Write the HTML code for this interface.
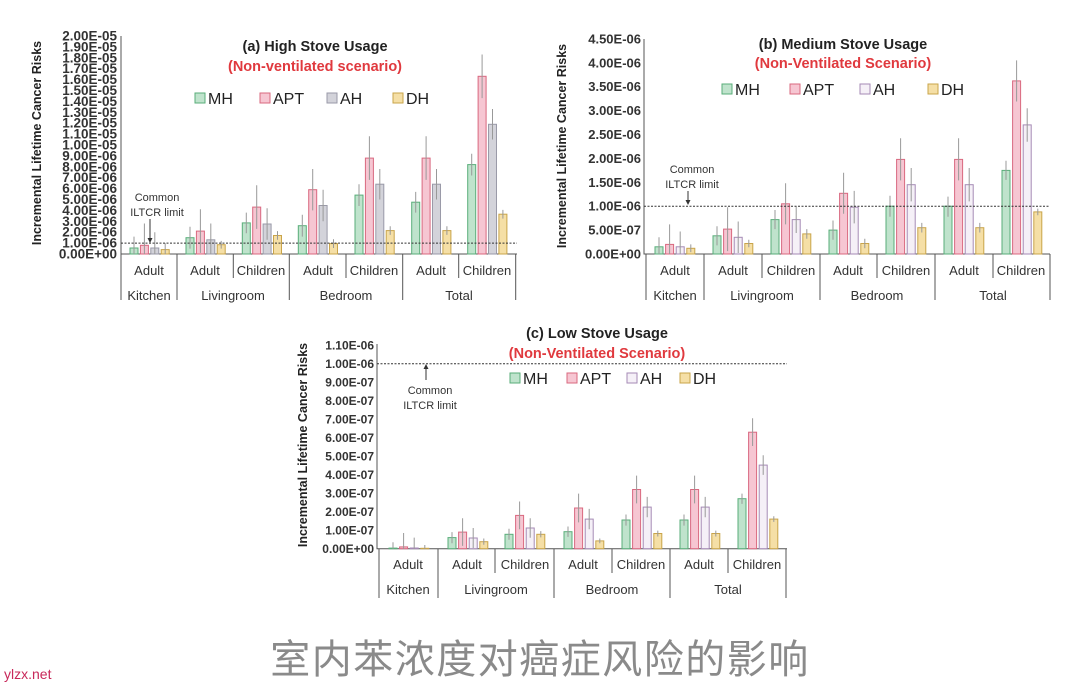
<!DOCTYPE html>
<html><head><meta charset="utf-8"><style>
body{margin:0;background:#fff}
svg{display:block;font-family:"Liberation Sans",sans-serif}
.t{font-size:13.5px;font-weight:bold;fill:#333;text-anchor:end}
.tt{font-size:14.5px;font-weight:bold;fill:#222;text-anchor:middle}
.st{font-size:14.5px;font-weight:bold;fill:#e0393e;text-anchor:middle}
.lg{font-size:16px;fill:#222}
.cl{font-size:11px;fill:#333;text-anchor:middle}
.xl{font-size:13px;fill:#333;text-anchor:middle}
.yt{font-size:12.5px;font-weight:bold;fill:#222;text-anchor:middle}
.mh{fill:#bfe3cc;stroke:#5aae7a}
.ap{fill:#f6c6d2;stroke:#d9687f}
.ahg{fill:#d3d3da;stroke:#9a9aa8}
.ah{fill:#f5f0f7;stroke:#a58ab5}
.dh{fill:#f5dfa6;stroke:#c9a44a}
.e{stroke:#999;stroke-width:1}
.ax{stroke:#555;stroke-width:1;fill:none}
.lim{stroke:#333;stroke-width:1;stroke-dasharray:2,1.5}
</style></head><body>
<svg width="1080" height="689" viewBox="0 0 1080 689">
<rect width="1080" height="689" fill="#fff"/>

<!-- ===== Chart A ===== -->
<text class="yt" transform="translate(41,143) rotate(-90)">Incremental Lifetime Cancer Risks</text>
<g class="t">
<text x="117" y="258.5">0.00E+00</text><text x="117" y="247.6">1.00E-06</text><text x="117" y="236.7">2.00E-06</text><text x="117" y="225.8">3.00E-06</text><text x="117" y="214.9">4.00E-06</text><text x="117" y="204">5.00E-06</text><text x="117" y="193.1">6.00E-06</text><text x="117" y="182.2">7.00E-06</text><text x="117" y="171.3">8.00E-06</text><text x="117" y="160.4">9.00E-06</text><text x="117" y="149.5">1.00E-05</text><text x="117" y="138.6">1.10E-05</text><text x="117" y="127.7">1.20E-05</text><text x="117" y="116.8">1.30E-05</text><text x="117" y="105.9">1.40E-05</text><text x="117" y="95">1.50E-05</text><text x="117" y="84.1">1.60E-05</text><text x="117" y="73.2">1.70E-05</text><text x="117" y="62.3">1.80E-05</text><text x="117" y="51.4">1.90E-05</text><text x="117" y="40.5">2.00E-05</text>
</g>
<path class="ax" d="M121,36V254H517M121,254V300M177,254V300M233.3,254V278M289.3,254V300M346,254V278M402.7,254V300M458.7,254V278M515.7,254V300"/>
<text class="tt" x="315" y="51">(a) High Stove Usage</text>
<text class="st" x="315" y="71">(Non-ventilated scenario)</text>
<rect class="mh" x="195" y="93" width="10" height="10"/><text class="lg" x="208" y="104">MH</text>
<rect class="ap" x="260" y="93" width="10" height="10"/><text class="lg" x="273" y="104">APT</text>
<rect class="ahg" x="327" y="93" width="10" height="10"/><text class="lg" x="340" y="104">AH</text>
<rect class="dh" x="393" y="93" width="10" height="10"/><text class="lg" x="406" y="104">DH</text>
<text class="cl" x="157" y="201">Common</text><text class="cl" x="157" y="216">ILTCR limit</text>
<path d="M150,219V241" stroke="#333"/><path d="M147.5,238L150,243L152.5,238Z" fill="#333"/>
<g>
<rect class="mh" x="130" y="248" width="8" height="6"/><rect class="ap" x="140.4" y="245.3" width="8" height="8.7"/><rect class="ahg" x="150.8" y="248" width="8" height="6"/><rect class="dh" x="161.2" y="249.6" width="8" height="4.4"/>
<rect class="mh" x="186" y="237.7" width="8" height="16.3"/><rect class="ap" x="196.4" y="231.1" width="8" height="22.9"/><rect class="ahg" x="206.8" y="239.8" width="8" height="14.2"/><rect class="dh" x="217.2" y="244.7" width="8" height="9.3"/>
<rect class="mh" x="242.3" y="222.9" width="8" height="31.1"/><rect class="ap" x="252.7" y="207.1" width="8" height="46.9"/><rect class="ahg" x="263.1" y="224" width="8" height="30"/><rect class="dh" x="273.5" y="235.5" width="8" height="18.5"/>
<rect class="mh" x="298.3" y="225.7" width="8" height="28.3"/><rect class="ap" x="308.7" y="189.7" width="8" height="64.3"/><rect class="ahg" x="319.1" y="205.5" width="8" height="48.5"/><rect class="dh" x="329.5" y="243.6" width="8" height="10.4"/>
<rect class="mh" x="355" y="195.1" width="8" height="58.9"/><rect class="ap" x="365.4" y="158.1" width="8" height="95.9"/><rect class="ahg" x="375.8" y="184.2" width="8" height="69.8"/><rect class="dh" x="386.2" y="230.6" width="8" height="23.4"/>
<rect class="mh" x="411.7" y="202.2" width="8" height="51.8"/><rect class="ap" x="422.1" y="158.1" width="8" height="95.9"/><rect class="ahg" x="432.5" y="184.2" width="8" height="69.8"/><rect class="dh" x="442.9" y="230.6" width="8" height="23.4"/>
<rect class="mh" x="467.7" y="164.6" width="8" height="89.4"/><rect class="ap" x="478.1" y="76.3" width="8" height="177.7"/><rect class="ahg" x="488.5" y="124.3" width="8" height="129.7"/><rect class="dh" x="498.9" y="214.2" width="8" height="39.8"/>
</g>
<path class="e" d="M134,236.6V254M144.4,223.5V254M154.8,232.2V254M165.2,243.1V254
M190,226.8V248.6M200.4,209.3V252.9M210.8,223.5V254M221.2,240.9V248.6
M246.3,212.6V233.3M256.7,185.3V228.9M267.1,208.2V239.8M277.5,231.1V239.8
M302.3,214.8V236.6M312.7,169V210.4M323.1,189.7V221.3M333.5,239.3V248
M359,184.2V206M369.4,136.3V179.9M379.8,169V199.5M390.2,226.2V234.9
M415.7,191.9V212.6M426.1,136.3V179.9M436.5,169V199.5M446.9,226.2V234.9
M471.7,153.7V175.5M482.1,54.5V98.1M492.5,109V139.5M502.9,209.9V218.6"/>
<line class="lim" x1="121" y1="243.1" x2="517" y2="243.1"/>
<g class="xl">
<text x="149" y="275">Adult</text><text x="205" y="275">Adult</text><text x="261" y="275">Children</text><text x="318" y="275">Adult</text><text x="374" y="275">Children</text><text x="431" y="275">Adult</text><text x="487" y="275">Children</text>
<text x="149" y="300">Kitchen</text><text x="233" y="300">Livingroom</text><text x="346" y="300">Bedroom</text><text x="459" y="300">Total</text>
</g>

<!-- ===== Chart B ===== -->
<text class="yt" transform="translate(566,146) rotate(-90)">Incremental Lifetime Cancer Risks</text>
<g class="t" style="font-size:13px">
<text x="641" y="258.5">0.00E+00</text><text x="641" y="234.6">5.00E-07</text><text x="641" y="210.7">1.00E-06</text><text x="641" y="186.8">1.50E-06</text><text x="641" y="162.9">2.00E-06</text><text x="641" y="139">2.50E-06</text><text x="641" y="115.1">3.00E-06</text><text x="641" y="91.2">3.50E-06</text><text x="641" y="67.3">4.00E-06</text><text x="641" y="43.4">4.50E-06</text>
</g>
<path class="ax" d="M644,39V254H1050M646,254V300M704,254V300M762,254V278M820,254V300M877,254V278M935,254V300M993,254V278M1050,254V300"/>
<text class="tt" x="843" y="49">(b) Medium Stove Usage</text>
<text class="st" x="843" y="68">(Non-Ventilated Scenario)</text>
<rect class="mh" x="722" y="84" width="10" height="10"/><text class="lg" x="735" y="95">MH</text>
<rect class="ap" x="790" y="84" width="10" height="10"/><text class="lg" x="803" y="95">APT</text>
<rect class="ah" x="860" y="84" width="10" height="10"/><text class="lg" x="873" y="95">AH</text>
<rect class="dh" x="928" y="84" width="10" height="10"/><text class="lg" x="941" y="95">DH</text>
<text class="cl" x="692" y="173">Common</text><text class="cl" x="692" y="188">ILTCR limit</text>
<path d="M688,191V203" stroke="#333"/><path d="M685.5,200L688,205L690.5,200Z" fill="#333"/>
<g>
<rect class="mh" x="655" y="246.8" width="8" height="7.2"/><rect class="ap" x="665.6" y="244.4" width="8" height="9.6"/><rect class="ah" x="676.2" y="246.8" width="8" height="7.2"/><rect class="dh" x="686.8" y="248.3" width="8" height="5.7"/>
<rect class="mh" x="713" y="235.8" width="8" height="18.2"/><rect class="ap" x="723.6" y="229.1" width="8" height="24.9"/><rect class="ah" x="734.2" y="237.3" width="8" height="16.7"/><rect class="dh" x="744.8" y="243.5" width="8" height="10.5"/>
<rect class="mh" x="771" y="219.6" width="8" height="34.4"/><rect class="ap" x="781.6" y="203.8" width="8" height="50.2"/><rect class="ah" x="792.2" y="219.6" width="8" height="34.4"/><rect class="dh" x="802.8" y="233.9" width="8" height="20.1"/>
<rect class="mh" x="829" y="230.1" width="8" height="23.9"/><rect class="ap" x="839.6" y="193.3" width="8" height="60.7"/><rect class="ah" x="850.2" y="207.2" width="8" height="46.8"/><rect class="dh" x="860.8" y="243.5" width="8" height="10.5"/>
<rect class="mh" x="886" y="206.2" width="8" height="47.8"/><rect class="ap" x="896.6" y="159.4" width="8" height="94.6"/><rect class="ah" x="907.2" y="184.7" width="8" height="69.3"/><rect class="dh" x="917.8" y="227.7" width="8" height="26.3"/>
<rect class="mh" x="944" y="206.2" width="8" height="47.8"/><rect class="ap" x="954.6" y="159.4" width="8" height="94.6"/><rect class="ah" x="965.2" y="184.7" width="8" height="69.3"/><rect class="dh" x="975.8" y="227.7" width="8" height="26.3"/>
<rect class="mh" x="1002" y="170.4" width="8" height="83.6"/><rect class="ap" x="1012.6" y="80.9" width="8" height="173.1"/><rect class="ah" x="1023.2" y="124.9" width="8" height="129.1"/><rect class="dh" x="1033.8" y="211.9" width="8" height="42.1"/>
</g>
<path class="e" d="M659,237.3V254M669.6,224.4V254M680.2,231.5V254M690.8,244.4V252.1
M717,226.3V245.4M727.6,207.2V251.1M738.2,221.5V253M748.8,239.7V247.3
M775,210V229.1M785.6,183.3V224.4M796.2,206.2V233M806.8,229.1V238.7
M833,220.5V239.7M843.6,172.7V213.8M854.2,190.9V223.4M864.8,238.7V248.3
M890,195.7V216.7M900.6,138.3V180.4M911.2,168V201.4M921.8,222.9V232.5
M948,196.6V216.7M958.6,138.3V180.4M969.2,168V201.4M979.8,222.9V232.5
M1006,160.8V179.9M1016.6,60.4V101.5M1027.2,108.2V141.7M1037.8,208.6V215.3"/>
<line class="lim" x1="644" y1="206.2" x2="1050" y2="206.2"/>
<g class="xl">
<text x="675" y="275">Adult</text><text x="733" y="275">Adult</text><text x="791" y="275">Children</text><text x="848" y="275">Adult</text><text x="906" y="275">Children</text><text x="964" y="275">Adult</text><text x="1021" y="275">Children</text>
<text x="675" y="300">Kitchen</text><text x="762" y="300">Livingroom</text><text x="877" y="300">Bedroom</text><text x="993" y="300">Total</text>
</g>

<!-- ===== Chart C ===== -->
<text class="yt" transform="translate(307,445) rotate(-90)">Incremental Lifetime Cancer Risks</text>
<g class="t" style="font-size:12px">
<text x="374" y="553">0.00E+00</text><text x="374" y="534.5">1.00E-07</text><text x="374" y="516">2.00E-07</text><text x="374" y="497.5">3.00E-07</text><text x="374" y="479">4.00E-07</text><text x="374" y="460.5">5.00E-07</text><text x="374" y="442">6.00E-07</text><text x="374" y="423.5">7.00E-07</text><text x="374" y="405">8.00E-07</text><text x="374" y="386.5">9.00E-07</text><text x="374" y="368">1.00E-06</text><text x="374" y="349.5">1.10E-06</text>
</g>
<path class="ax" d="M377,344V548.7H787M379,548.7V598M438,548.7V598M495,548.7V573M554,548.7V598M612,548.7V573M670,548.7V598M728,548.7V573M786,548.7V598"/>
<text class="tt" x="597" y="338">(c) Low Stove Usage</text>
<text class="st" x="597" y="358">(Non-Ventilated Scenario)</text>
<rect class="mh" x="510" y="373" width="10" height="10"/><text class="lg" x="523" y="384">MH</text>
<rect class="ap" x="567" y="373" width="10" height="10"/><text class="lg" x="580" y="384">APT</text>
<rect class="ah" x="627" y="373" width="10" height="10"/><text class="lg" x="640" y="384">AH</text>
<rect class="dh" x="680" y="373" width="10" height="10"/><text class="lg" x="693" y="384">DH</text>
<text class="cl" x="430" y="394">Common</text><text class="cl" x="430" y="409">ILTCR limit</text>
<path d="M426,367V380" stroke="#333"/><path d="M423.5,369L426,364L428.5,369Z" fill="#333"/>
<g>
<rect class="mh" x="389" y="548.1" width="8" height="0.6"/><rect class="ap" x="399.6" y="546.9" width="8" height="1.8"/><rect class="ah" x="410.2" y="548" width="8" height="0.7"/><rect class="dh" x="420.8" y="548.3" width="8" height="0.4"/>
<rect class="mh" x="448" y="537.6" width="8" height="11.1"/><rect class="ap" x="458.6" y="532.1" width="8" height="16.6"/><rect class="ah" x="469.2" y="538" width="8" height="10.7"/><rect class="dh" x="479.8" y="541.7" width="8" height="7"/>
<rect class="mh" x="505" y="534.3" width="8" height="14.4"/><rect class="ap" x="515.6" y="515.4" width="8" height="33.3"/><rect class="ah" x="526.2" y="528" width="8" height="20.7"/><rect class="dh" x="536.8" y="534.3" width="8" height="14.4"/>
<rect class="mh" x="564" y="531.7" width="8" height="17"/><rect class="ap" x="574.6" y="508" width="8" height="40.7"/><rect class="ah" x="585.2" y="519.1" width="8" height="29.6"/><rect class="dh" x="595.8" y="540.9" width="8" height="7.8"/>
<rect class="mh" x="622" y="520" width="8" height="28.7"/><rect class="ap" x="632.6" y="489.5" width="8" height="59.2"/><rect class="ah" x="643.2" y="507.1" width="8" height="41.6"/><rect class="dh" x="653.8" y="533.5" width="8" height="15.2"/>
<rect class="mh" x="680" y="520" width="8" height="28.7"/><rect class="ap" x="690.6" y="489.5" width="8" height="59.2"/><rect class="ah" x="701.2" y="507.1" width="8" height="41.6"/><rect class="dh" x="711.8" y="533.5" width="8" height="15.2"/>
<rect class="mh" x="738" y="498.7" width="8" height="50"/><rect class="ap" x="748.6" y="432.2" width="8" height="116.5"/><rect class="ah" x="759.2" y="465.1" width="8" height="83.6"/><rect class="dh" x="769.8" y="519.1" width="8" height="29.6"/>
</g>
<path class="e" d="M393,542.2V548.7M403.6,533V548.7M414.2,537.6V548.7M424.8,545V548.7
M452,532.1V543.2M462.6,518.2V545.9M473.2,528V548M483.8,538.5V544.8
M509,528.7V539.8M519.6,501.5V529.3M530.2,518.2V537.8M540.8,531.1V537.4
M568,526.5V536.9M578.6,493.6V522.4M589.2,508.9V529.3M599.8,538.5V543.3
M626,514.5V525.6M636.6,475.6V503.4M647.2,496.9V517.3M657.8,530.6V536.5
M684,514.5V525.6M694.6,475.6V503.4M705.2,496.9V517.3M715.8,530.6V536.5
M742,493.6V503.9M752.6,418.3V446M763.2,455.3V474.9M773.8,516.3V521.9"/>
<line class="lim" x1="377" y1="363.7" x2="787" y2="363.7"/>
<g class="xl">
<text x="408" y="569">Adult</text><text x="467" y="569">Adult</text><text x="525" y="569">Children</text><text x="583" y="569">Adult</text><text x="641" y="569">Children</text><text x="699" y="569">Adult</text><text x="757" y="569">Children</text>
<text x="408" y="594">Kitchen</text><text x="496" y="594">Livingroom</text><text x="612" y="594">Bedroom</text><text x="728" y="594">Total</text>
</g>

<!-- caption -->
<text x="540" y="673" text-anchor="middle" style="font-family:'Liberation Sans','Noto Sans CJK SC',sans-serif;font-size:40px;fill:#8a8a8a;letter-spacing:1.5px">室内苯浓度对癌症风险的影响</text>
<text x="4" y="679" style="font-size:14px;fill:#c8285a">ylzx.net</text>
</svg>
</body></html>
